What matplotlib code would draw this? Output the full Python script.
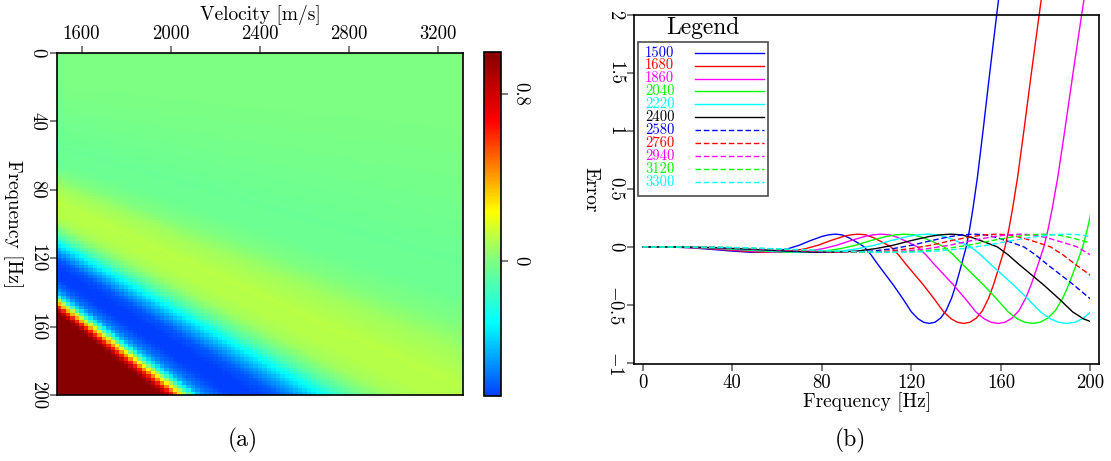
import numpy as np
import matplotlib
matplotlib.use("Agg")
import matplotlib.pyplot as plt
from matplotlib.colors import LinearSegmentedColormap
from matplotlib.patches import Rectangle

plt.rcParams['font.family'] = ['cmr10', 'DejaVu Serif']
plt.rcParams['mathtext.fontset'] = 'cm'
plt.rcParams['axes.unicode_minus'] = False

# velocities of the curves in (b)
velocities = [1500, 1680, 1860, 2040, 2220, 2400, 2580, 2760, 2940, 3120, 3300]
line_colors = ['blue', 'red', 'magenta', 'lime', 'cyan', 'black',
               'blue', 'red', 'magenta', 'lime', 'cyan']
line_styles = ['-'] * 6 + ['--'] * 5

# error curve of 1500 m/s read off (b); the other curves are the same
# shape stretched along frequency by v/1500
curve_freq = [0, 10, 20, 30, 40, 48, 55, 60, 65, 70, 75, 80, 83, 86, 89,
              92, 96, 99, 102, 105, 108.7, 112, 116.3, 120, 123, 125.5, 128,
              130.5, 133, 135.5, 138, 140, 142, 144.5, 146, 147.5, 149.5,
              152, 155, 158.4, 162, 170]
curve_err = [0, -0.001, -0.006, -0.02, -0.036, -0.046, -0.045, -0.035,
             -0.015, 0.015, 0.055, 0.09, 0.104, 0.11, 0.104, 0.08, 0.036,
             0.0, -0.068, -0.15, -0.245, -0.33, -0.45, -0.56, -0.62, -0.65,
             -0.66, -0.65, -0.615, -0.55, -0.44, -0.32, -0.18, 0.0, 0.15,
             0.33, 0.6, 1.0, 1.5, 2.05, 2.6, 4.0]

# error down the 1500 m/s column of the image in (a)
img_freq = [0, 20, 40, 55, 65, 72, 80, 88, 95, 100, 104, 108, 112, 116, 121,
            127, 133, 138, 141, 143, 145, 147, 149, 151, 153, 160, 200]
img_err = [0, -0.005, -0.025, -0.045, -0.04, 0.0, 0.07, 0.105, 0.1, 0.07,
           0.0, -0.12, -0.3, -0.45, -0.6, -0.66, -0.64, -0.55, -0.42, -0.2,
           0.1, 0.35, 0.6, 0.85, 1.0, 1.6, 5.0]

vel_grid = np.arange(1500, 3301, 20)
freq_grid = np.arange(1, 200, 2)

vel_ticks = [1600, 2000, 2400, 2800, 3200]
freq_ticks = [0, 40, 80, 120, 160, 200]
err_ticks = [-1, -0.5, 0, 0.5, 1, 1.5, 2]
err_labels = ['$-$1', '$-$0.5', '0', '0.5', '1', '1.5', '2']

cmap = LinearSegmentedColormap.from_list('sep', [
    (0.0, (0.0, 0.25, 1.0)),
    (0.212, (0.0, 1.0, 1.0)),
    (0.396, (0.5, 1.0, 0.5)),
    (0.536, (1.0, 1.0, 0.0)),
    (0.80, (1.0, 0.0, 0.0)),
    (1.0, (0.53, 0.0, 0.0))])

tick_kw = dict(direction='out', length=5, width=1.3, color='0.45',
               labelsize=13.5, pad=2.5)

fig = plt.figure(figsize=(11.11, 4.61), dpi=100)

# ---- (a) image
ax1 = fig.add_axes([0.0513, 0.1432, 0.3654, 0.7419])
err2d = np.interp(freq_grid[:, None] * 1500.0 / vel_grid[None, :],
                  img_freq, img_err)
dv = vel_grid[1] - vel_grid[0]
im = ax1.imshow(err2d, cmap=cmap, vmin=-0.65, vmax=1.0, aspect='auto',
                interpolation='nearest',
                extent=[vel_grid[0] - dv / 2, vel_grid[-1] + dv / 2, 200, 0])
ax1.xaxis.tick_top()
ax1.xaxis.set_label_position('top')
ax1.set_xticks(vel_ticks)
ax1.set_yticks(freq_ticks)
ax1.tick_params(**tick_kw)
for lbl in ax1.get_yticklabels():
    lbl.set_rotation(-90)
    lbl.set_va('center')
ax1.set_xlabel('Velocity [m/s]', fontsize=14, labelpad=3)
ax1.set_ylabel('Frequency [Hz]', fontsize=14, rotation=-90, va='top',
               labelpad=4)
for s in ax1.spines.values():
    s.set_linewidth(1.2)

cax = fig.add_axes([0.4356, 0.141, 0.0149, 0.746])
cb = fig.colorbar(im, cax=cax, ticks=[0, 0.8])
cb.ax.set_yticklabels(['0', '0.8'])
cb.ax.tick_params(**tick_kw)
for lbl in cb.ax.get_yticklabels():
    lbl.set_rotation(-90)
    lbl.set_va('center')
cb.outline.set_linewidth(1.2)

# ---- (b) curves
ax2 = fig.add_axes([0.5709, 0.2104, 0.4185, 0.757])
clip = Rectangle((-10, -5), 210, 20, transform=ax2.transData)
for v, c, ls in zip(velocities, line_colors, line_styles):
    fx = np.array(curve_freq) * v / 1500.0
    ln, = ax2.plot(fx, curve_err, color=c, lw=1.0)
    if ls == '--':
        ln.set_dashes([4, 2])
    ln.set_clip_path(clip)
ax2.set_xlim(-3.75, 203.9)
ax2.set_ylim(-1.01, 2.0)
ax2.set_xticks(freq_ticks)
ax2.set_yticks(err_ticks)
ax2.set_yticklabels(err_labels)
ax2.tick_params(**tick_kw)
for lbl in ax2.get_yticklabels():
    lbl.set_rotation(-90)
    lbl.set_va('center')
ax2.set_xlabel('Frequency [Hz]', fontsize=14, labelpad=0)
ax2.set_ylabel('Error', fontsize=14, rotation=-90, va='top', labelpad=5)
for s in ax2.spines.values():
    s.set_linewidth(1.2)

# legend box drawn by hand, title sits above the frame
ax2.add_patch(Rectangle((0.0086, 0.481), 0.2794, 0.442,
                        transform=ax2.transAxes, fc='white', ec='0.3',
                        lw=1.2, zorder=5))
ax2.text(0.147, 0.962, 'Legend', transform=ax2.transAxes, ha='center',
         va='center', fontsize=17, zorder=6)
for i, (v, c, ls) in enumerate(zip(velocities, line_colors, line_styles)):
    y = 1 - (37.7 + 12.9 * i) / 349.0
    ax2.text(0.023, y, str(v), color=c, fontsize=10.5, va='center',
             transform=ax2.transAxes, zorder=6)
    ln, = ax2.plot([0.130, 0.279], [y, y], transform=ax2.transAxes,
                   color=c, lw=1.0, zorder=6)
    if ls == '--':
        ln.set_dashes([4, 2])

fig.text(243 / 1111, 1 - 440 / 461, '(a)', ha='center', va='center',
         fontsize=17)
fig.text(850 / 1111, 1 - 440 / 461, '(b)', ha='center', va='center',
         fontsize=17)

fig.savefig('out.png', dpi=100)
